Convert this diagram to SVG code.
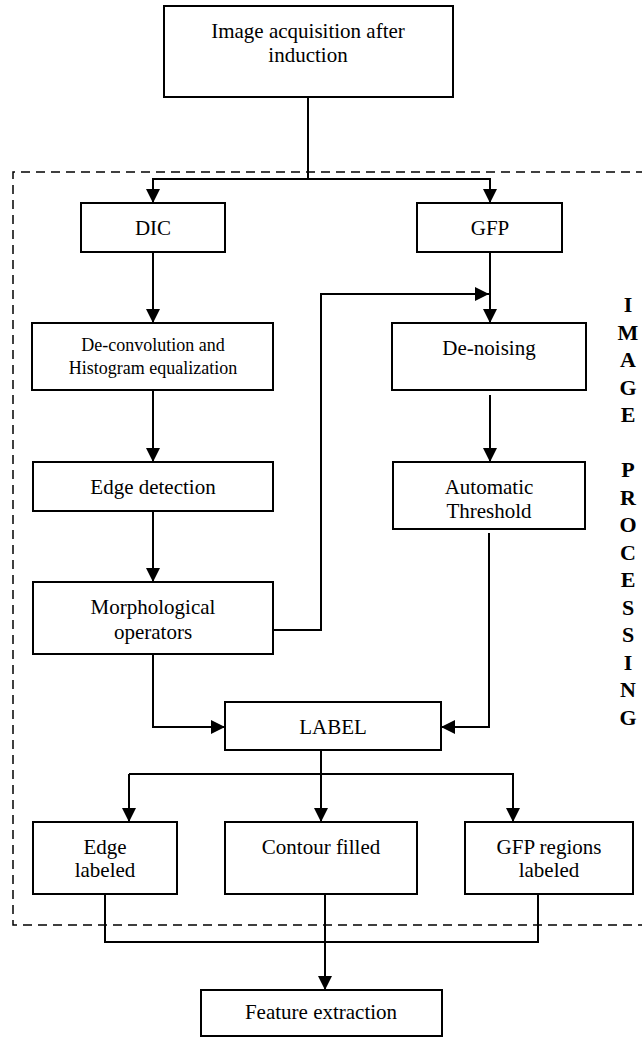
<svg xmlns="http://www.w3.org/2000/svg" width="642" height="1038" viewBox="0 0 642 1038">
<style>
  .box{fill:#fff;stroke:#000;stroke-width:2}
  .t{font-family:"Liberation Serif","Times New Roman",serif;font-size:21px;fill:#000;text-anchor:middle}
  .ts{font-family:"Liberation Serif","Times New Roman",serif;font-size:18px;fill:#000;text-anchor:middle}
  .side{font-family:"Liberation Serif","Times New Roman",serif;font-size:22px;font-weight:bold;fill:#000;text-anchor:middle}
  .c{fill:none;stroke:#000;stroke-width:2}
  .dash{fill:none;stroke:#000;stroke-width:1.5;stroke-dasharray:9 6}
</style>
<defs>
  <marker id="ah" markerUnits="userSpaceOnUse" markerWidth="14" markerHeight="14" refX="14" refY="7" orient="auto">
    <path d="M0,0 L14,7 L0,14 Z" fill="#000"/>
  </marker>
</defs>
<rect width="642" height="1038" fill="#fff"/>
<path class="dash" d="M660,172 H13 V925 H660"/>
<g id="connectors">
  <path class="c" d="M308,97 V179"/>
  <path class="c" d="M308,179 H153 V203" marker-end="url(#ah)"/>
  <path class="c" d="M308,179 H490 V203" marker-end="url(#ah)"/>
  <path class="c" d="M153,252 V323" marker-end="url(#ah)"/>
  <path class="c" d="M490,252 V323" marker-end="url(#ah)"/>
  <path class="c" d="M273,630 H321 V294 H489" marker-end="url(#ah)"/>
  <path class="c" d="M153,390 V462" marker-end="url(#ah)"/>
  <path class="c" d="M490,395 V462" marker-end="url(#ah)"/>
  <path class="c" d="M153,511 V582" marker-end="url(#ah)"/>
  <path class="c" d="M153,654 V727 H225" marker-end="url(#ah)"/>
  <path class="c" d="M489,533 V727 H441" marker-end="url(#ah)"/>
  <path class="c" d="M321,750 V822" marker-end="url(#ah)"/>
  <path class="c" d="M129,774 H513 V822" marker-end="url(#ah)"/>
  <path class="c" d="M129,774 V822" marker-end="url(#ah)"/>
  <path class="c" d="M105,894 V942 H538 V894"/>
  <path class="c" d="M325,894 V990" marker-end="url(#ah)"/>
</g>
<g id="n-acq"><rect class="box" x="164" y="6" width="289" height="91"/><text class="t" x="308" y="38">Image acquisition after</text><text class="t" x="308" y="62">induction</text></g>
<g id="n-dic"><rect class="box" x="81" y="203" width="144" height="49"/><text class="t" x="153" y="235">DIC</text></g>
<g id="n-gfp"><rect class="box" x="417" y="203" width="145" height="49"/><text class="t" x="490" y="235">GFP</text></g>
<g id="n-deconv"><rect class="box" x="32" y="323" width="241" height="67"/><text class="ts" x="153" y="351">De-convolution and</text><text class="ts" x="153" y="374">Histogram equalization</text></g>
<g id="n-denoise"><rect class="box" x="392" y="323" width="194" height="67"/><text class="t" x="489" y="355">De-noising</text></g>
<g id="n-edge"><rect class="box" x="33" y="462" width="240" height="49"/><text class="t" x="153" y="494">Edge detection</text></g>
<g id="n-thresh"><rect class="box" x="393" y="462" width="192" height="67"/><text class="t" x="489" y="494">Automatic</text><text class="t" x="489" y="518">Threshold</text></g>
<g id="n-morph"><rect class="box" x="33" y="582" width="240" height="72"/><text class="t" x="153" y="614">Morphological</text><text class="t" x="153" y="639">operators</text></g>
<g id="n-label"><rect class="box" x="225" y="702" width="216" height="48"/><text class="t" x="333" y="734">LABEL</text></g>
<g id="n-edgelab"><rect class="box" x="33" y="822" width="144" height="72"/><text class="t" x="105" y="854">Edge</text><text class="t" x="105" y="877">labeled</text></g>
<g id="n-contour"><rect class="box" x="225" y="822" width="192" height="72"/><text class="t" x="321" y="854">Contour filled</text></g>
<g id="n-gfplab"><rect class="box" x="465" y="822" width="168" height="72"/><text class="t" x="549" y="854">GFP regions</text><text class="t" x="549" y="877">labeled</text></g>
<g id="n-feat"><rect class="box" x="201" y="990" width="241" height="46"/><text class="t" x="321" y="1019">Feature extraction</text></g>
<g id="side-label">
  <text class="side" x="628" y="312">I</text>
  <text class="side" x="628" y="339.5">M</text>
  <text class="side" x="628" y="367">A</text>
  <text class="side" x="628" y="394.5">G</text>
  <text class="side" x="628" y="422">E</text>
  <text class="side" x="628" y="477">P</text>
  <text class="side" x="628" y="504.5">R</text>
  <text class="side" x="628" y="532">O</text>
  <text class="side" x="628" y="559.5">C</text>
  <text class="side" x="628" y="587">E</text>
  <text class="side" x="628" y="614.5">S</text>
  <text class="side" x="628" y="642">S</text>
  <text class="side" x="628" y="669.5">I</text>
  <text class="side" x="628" y="697">N</text>
  <text class="side" x="628" y="724.5">G</text>
</g>
</svg>
